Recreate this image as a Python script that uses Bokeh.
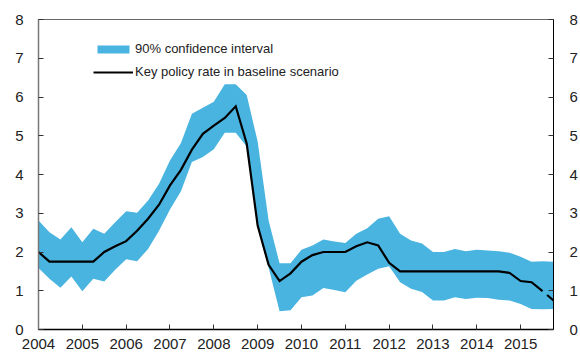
from bokeh.plotting import figure
from bokeh.models import (Range1d, LinearAxis, FixedTicker, Legend, LegendItem, Label)
from bokeh.embed import file_html
from bokeh.resources import INLINE

# ---- data (2004 Q1 - 2015 Q4, quarterly) ----
years = list(range(2004, 2016))
quarters = [f"{y} Q{q}" for y in years for q in range(1, 5)]
year_labels = [str(y) for y in years]

policy_rate = [2.00, 1.75, 1.75, 1.75, 1.75, 1.75, 2.00, 2.15,
               2.28, 2.55, 2.86, 3.22, 3.72, 4.12, 4.64, 5.05,
               5.26, 5.46, 5.76, 4.80, 2.68, 1.67, 1.25, 1.45,
               1.75, 1.92, 2.00, 2.00, 2.00, 2.15, 2.25, 2.17,
               1.72, 1.50, 1.50, 1.50, 1.50, 1.50, 1.50, 1.50,
               1.50, 1.50, 1.50, 1.46, 1.25, 1.22, 0.99, 0.75]

ci_upper = [2.81, 2.51, 2.32, 2.64, 2.25, 2.60, 2.47, 2.77,
            3.05, 3.01, 3.33, 3.76, 4.36, 4.81, 5.57, 5.72,
            5.88, 6.33, 6.33, 6.05, 4.85, 2.81, 1.71, 1.71,
            2.06, 2.17, 2.32, 2.27, 2.23, 2.47, 2.61, 2.86,
            2.92, 2.47, 2.30, 2.22, 2.00, 2.00, 2.08, 2.02,
            2.06, 2.04, 2.02, 1.98, 1.88, 1.75, 1.76, 1.75]

ci_lower = [1.59, 1.31, 1.08, 1.37, 0.99, 1.31, 1.24, 1.54,
            1.81, 1.76, 2.08, 2.55, 3.10, 3.57, 4.32, 4.45,
            4.65, 5.08, 5.08, 4.72, 2.62, 1.60, 0.47, 0.50,
            0.83, 0.88, 1.07, 1.02, 0.96, 1.26, 1.42, 1.57,
            1.63, 1.22, 1.05, 0.97, 0.75, 0.75, 0.83, 0.79,
            0.82, 0.81, 0.77, 0.75, 0.66, 0.53, 0.52, 0.53]

y_ticks = [0, 1, 2, 3, 4, 5, 6, 7, 8]

x = [int(s[:4]) + (int(s[-1]) - 1) / 4 for s in quarters]

FONT = "Liberation Sans"
TXT = "#222222"
BAND = "#4AB4E0"

p = figure(width=580, height=358, output_backend="svg", toolbar_location=None,
           x_range=Range1d(x[0], x[-1]), y_range=Range1d(0, 8),
           x_axis_location="below", y_axis_location="left")
p.min_border_left = 38
p.min_border_right = 26
p.min_border_top = 19
p.min_border_bottom = 29
p.xgrid.visible = False
p.ygrid.visible = False
p.outline_line_color = "#666666"
p.outline_line_width = 1
p.background_fill_color = "white"
p.border_fill_color = "white"

band = p.varea(x=x, y1=ci_lower, y2=ci_upper, fill_color=BAND, fill_alpha=1.0)
line = p.line(x=x[:-1], y=policy_rate[:-1], line_color="black", line_width=2.2,
              line_join="miter")
p.line(x=x[-2:], y=policy_rate[-2:], line_color="black", line_width=2.2,
       line_dash="0 6 12")

# axes
xa = p.xaxis[0]
xa.ticker = FixedTicker(ticks=years)
xa.major_label_overrides = {y: l for y, l in zip(years, year_labels)}
ya = p.yaxis[0]
ya.ticker = FixedTicker(ticks=y_ticks)
yr = LinearAxis(ticker=FixedTicker(ticks=y_ticks))
p.add_layout(yr, "right")

for ax in (xa, ya, yr):
    ax.major_tick_in = 5
    ax.major_tick_out = 0
    ax.minor_tick_line_color = None
    ax.major_label_text_font = FONT
    ax.major_label_text_font_size = "15px"
    ax.major_label_text_color = TXT
    ax.major_tick_line_color = "#333333"
xa.axis_line_color = "black"
xa.axis_line_width = 1.5
xa.major_label_standoff = 9
ya.axis_line_color = "#777777"
ya.axis_line_width = 1.5
ya.major_label_standoff = 15
yr.axis_line_color = "black"
yr.axis_line_width = 1
yr.major_label_standoff = 16

legend = Legend(items=[LegendItem(label="90% confidence interval", renderers=[band]),
                       LegendItem(label="Key policy rate in baseline scenario", renderers=[line])],
                location=(55, 250), glyph_width=40, glyph_height=10, label_height=10,
                spacing=8, padding=0, margin=0, border_line_color=None,
                background_fill_alpha=0, label_standoff=2,
                label_text_font=FONT, label_text_font_size="13px", label_text_color=TXT)
p.add_layout(legend)

title = Label(x=-25, y=325, x_units="screen", y_units="screen",
              text="Percent. 2004 Q1 \u2013 2015 Q4", text_font=FONT,
              text_font_size="15px", text_color=TXT, text_baseline="alphabetic")
p.add_layout(title)

open("out.html", "w").write(file_html(p, INLINE))
